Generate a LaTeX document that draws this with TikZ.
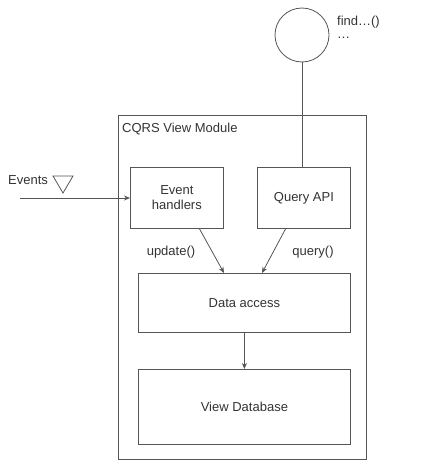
\documentclass[tikz,border=0pt]{standalone}
\usepackage{fontspec}
\setmainfont{Liberation Sans}
\usetikzlibrary{arrows.meta}
\definecolor{ln}{HTML}{555555}
\definecolor{tx}{HTML}{333333}
\tikzset{
  box/.style={draw=ln, line width=0.8pt, inner sep=0pt, text=tx, font=\fontsize{13}{15}\selectfont, align=center},
  lbl/.style={text=tx, font=\fontsize{13}{15}\selectfont, inner sep=0pt},
  conn/.style={draw=ln, line width=0.8pt},
  arr/.style={conn, -{Stealth[length=6pt,width=5pt]}}
}
\begin{document}
\begin{tikzpicture}[x=1pt,y=1pt]
\useasboundingbox (0,0) rectangle (427,-471);
% module box
\node[box, minimum width=248pt, minimum height=344pt, anchor=north west] (mod) at (118,-115) {};
\node[lbl, anchor=west] (title) at (122,-129) {CQRS View Module};
% boxes
\node[box, minimum width=93pt, minimum height=61pt, anchor=north west] (eh) at (130,-167) {Event\\handlers};
\node[box, minimum width=93pt, minimum height=61pt, anchor=north west] (qa) at (257,-167) {Query API};
\node[box, minimum width=212pt, minimum height=59pt, anchor=north west] (da) at (138,-273) {Data access};
\node[box, minimum width=212pt, minimum height=75pt, anchor=north west] (vd) at (138,-369) {View Database};
% client circle
\node[draw=ln, line width=0.8pt, circle, minimum size=54pt, inner sep=0pt] (cl) at (302,-35) {};
\node[lbl, anchor=west] (find) at (337,-22) {find…()};
\node[lbl, anchor=west] (dots) at (337,-38) {…};
% events
\coordinate (evs) at (20,-198);
\node[lbl, anchor=west] (evl) at (8,-180) {Events};
\coordinate (t1) at (53,-176);
\coordinate (t2) at (73,-176);
\coordinate (t3) at (63,-193);
\draw[conn, line join=miter] (t1) -- (t2) -- (t3) -- cycle;
\draw[arr] (evs) -- (eh.west |- evs);
% connectors
\draw[conn] (cl.south) -- (cl.south |- qa.north);
\coordinate (ehb) at (199,-228);
\coordinate (qab) at (286,-228);
\coordinate (dat1) at (224,-273);
\coordinate (dat2) at (262,-273);
\draw[arr] (ehb) -- (dat1);
\draw[arr] (qab) -- (dat2);
\draw[arr] (da.south) -- (vd.north);
\node[lbl] (upd) at (171,-252) {update()};
\node[lbl] (qry) at (313,-252) {query()};
\end{tikzpicture}
\end{document}
